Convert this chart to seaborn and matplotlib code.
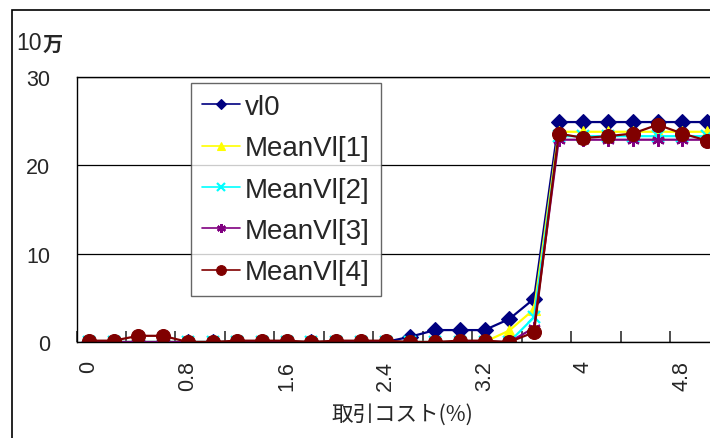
import numpy as np
import pandas as pd
import matplotlib
matplotlib.use("Agg")
import matplotlib.pyplot as plt
from matplotlib.patches import Rectangle
import seaborn as sns

# --- data -------------------------------------------------------------
cost = [0.0, 0.2, 0.4, 0.6, 0.8, 1.0, 1.2, 1.4, 1.6, 1.8, 2.0, 2.2, 2.4,
        2.6, 2.8, 3.0, 3.2, 3.4, 3.6, 3.8, 4.0, 4.2, 4.4, 4.6, 4.8, 5.0]

vl0 = [0, 0, 0, 0, 0, 0, 0, 0, 0, 0, 0, 0, 0,
       0.6, 1.35, 1.35, 1.35, 2.6, 4.9,
       24.9, 24.9, 24.9, 24.9, 24.9, 24.9, 24.9]
mean_vl1 = [0, 0, 0, 0, 0, 0, 0, 0, 0, 0, 0, 0, 0,
            0, 0, 0, 0, 1.3, 3.7,
            23.8, 23.8, 23.8, 23.8, 23.8, 23.8, 23.8]
mean_vl2 = [0, 0, 0, 0, 0, 0, 0, 0, 0, 0, 0, 0, 0,
            0, 0, 0, 0, 0, 2.8,
            23.3, 23.3, 23.3, 23.3, 23.3, 23.3, 23.3]
mean_vl3 = [0, 0, 0, 0, 0, 0, 0, 0, 0, 0, 0, 0, 0,
            0, 0, 0, 0, 0, 1.6,
            22.9, 22.9, 22.9, 22.9, 22.9, 22.9, 22.9]
mean_vl4 = [0.15, 0.15, 0.7, 0.7, 0, 0, 0.15, 0.15, 0.15, 0, 0.15, 0.15, 0.15,
            0, 0, 0.15, 0.15, 0, 1.1,
            23.6, 23.1, 23.3, 23.6, 24.6, 23.6, 22.8]

series_names = ["vl0", "MeanVl[1]", "MeanVl[2]", "MeanVl[3]", "MeanVl[4]"]
series_values = [vl0, mean_vl1, mean_vl2, mean_vl3, mean_vl4]

x_tick_values = [0, 0.8, 1.6, 2.4, 3.2, 4.0, 4.8]
x_tick_labels = ["0", "0.8", "1.6", "2.4", "3.2", "4", "4.8"]
y_tick_values = [0, 10, 20, 30]
y_unit_label = "10"
y_unit_suffix = "万"
x_title = "取引コスト(%)"

# --- styling ------------------------------------------------------------
sns.set_theme(style="white")
latin = "Liberation Sans"
plt.rcParams["font.family"] = [latin, "Noto Sans CJK JP", "DejaVu Sans"]

tick_fs = 15.5
legend_fs = 20

colors = ["#000080", "#FFFF00", "#00FFFF", "#800080", "#800000"]
markers = ["D", "^", "x", (6, 2, 0), "o"]
msizes = [8, 9, 8, 9, 10]

W, H = 710, 439
fig = plt.figure(figsize=(W / 100, H / 100), dpi=100)

def px(x0, y0, x1, y1):
    return [x0 / W, 1 - y1 / H, (x1 - x0) / W, (y1 - y0) / H]

ax = fig.add_axes(px(76.5, 78, 719.5, 343))

df = pd.DataFrame({"cost": cost})
for name, vals in zip(series_names, series_values):
    df[name] = vals

for name, c, m, ms in zip(series_names, colors, markers, msizes):
    filled = m not in ("x", (6, 2, 0))
    sns.lineplot(data=df, x="cost", y=name, ax=ax, color=c, marker=m,
                 markersize=ms, linewidth=1.6,
                 markeredgecolor=c,
                 markerfacecolor=c if filled else "none",
                 markeredgewidth=1.6 if not filled else 0.8,
                 label=name)

ax.set_xlim(-0.1, 5.1)
ax.set_ylim(0, 30)
ax.set_xlabel("")
ax.set_ylabel("")

ax.set_yticks(y_tick_values)
ax.set_yticklabels([str(v) for v in y_tick_values], fontsize=tick_fs)
ax.tick_params(axis="y", length=0, pad=19)
ax.yaxis.grid(True, color="black", linewidth=0.9)
ax.set_axisbelow(True)

ax.set_xticks(x_tick_values)
ax.set_xticklabels(x_tick_labels, rotation=90, fontsize=tick_fs)
ax.tick_params(axis="x", which="major", length=0, pad=13)
ax.set_xticks(np.arange(-0.1, 5.11, 0.4), minor=True)
ax.tick_params(axis="x", which="minor", direction="in", length=8,
               width=1.2, color="#303030", bottom=True)

for side in ["left", "bottom", "top", "right"]:
    ax.spines[side].set_color("black")
    ax.spines[side].set_linewidth(1.0)

leg = ax.legend(loc="upper left", bbox_to_anchor=(191 / W, 1 - 84 / H),
                bbox_transform=fig.transFigure, fontsize=legend_fs,
                frameon=True, fancybox=False, shadow=False,
                borderpad=0.4, labelspacing=0.55, handlelength=1.35,
                handletextpad=0.2, borderaxespad=0, markerscale=0.7)
leg.get_frame().set_edgecolor("#404040")
leg.get_frame().set_linewidth(1.0)
for line in leg.get_lines():
    line.set_linewidth(1.2)

# unit label above the value axis
fig.text(16 / W, 1 - 43 / H, y_unit_label, fontsize=tick_fs + 1,
         ha="left", va="center", family=[latin])
fig.text(43 / W, 1 - 44 / H, y_unit_suffix, fontsize=14.5,
         ha="left", va="center", fontweight="bold",
         family=["Noto Sans CJK JP"])

# category axis title
fig.text(402 / W, 1 - 415 / H, x_title, fontsize=15.5, ha="center",
         va="center", family=["Noto Sans CJK JP", latin])

# outer chart frame
fig.patches.append(Rectangle((12 / W, -0.2), 1.2, 1.2 - 11 / H,
                             transform=fig.transFigure, fill=False,
                             edgecolor="black", linewidth=1.2,
                             clip_on=False))

fig.savefig("out.png", dpi=100)
